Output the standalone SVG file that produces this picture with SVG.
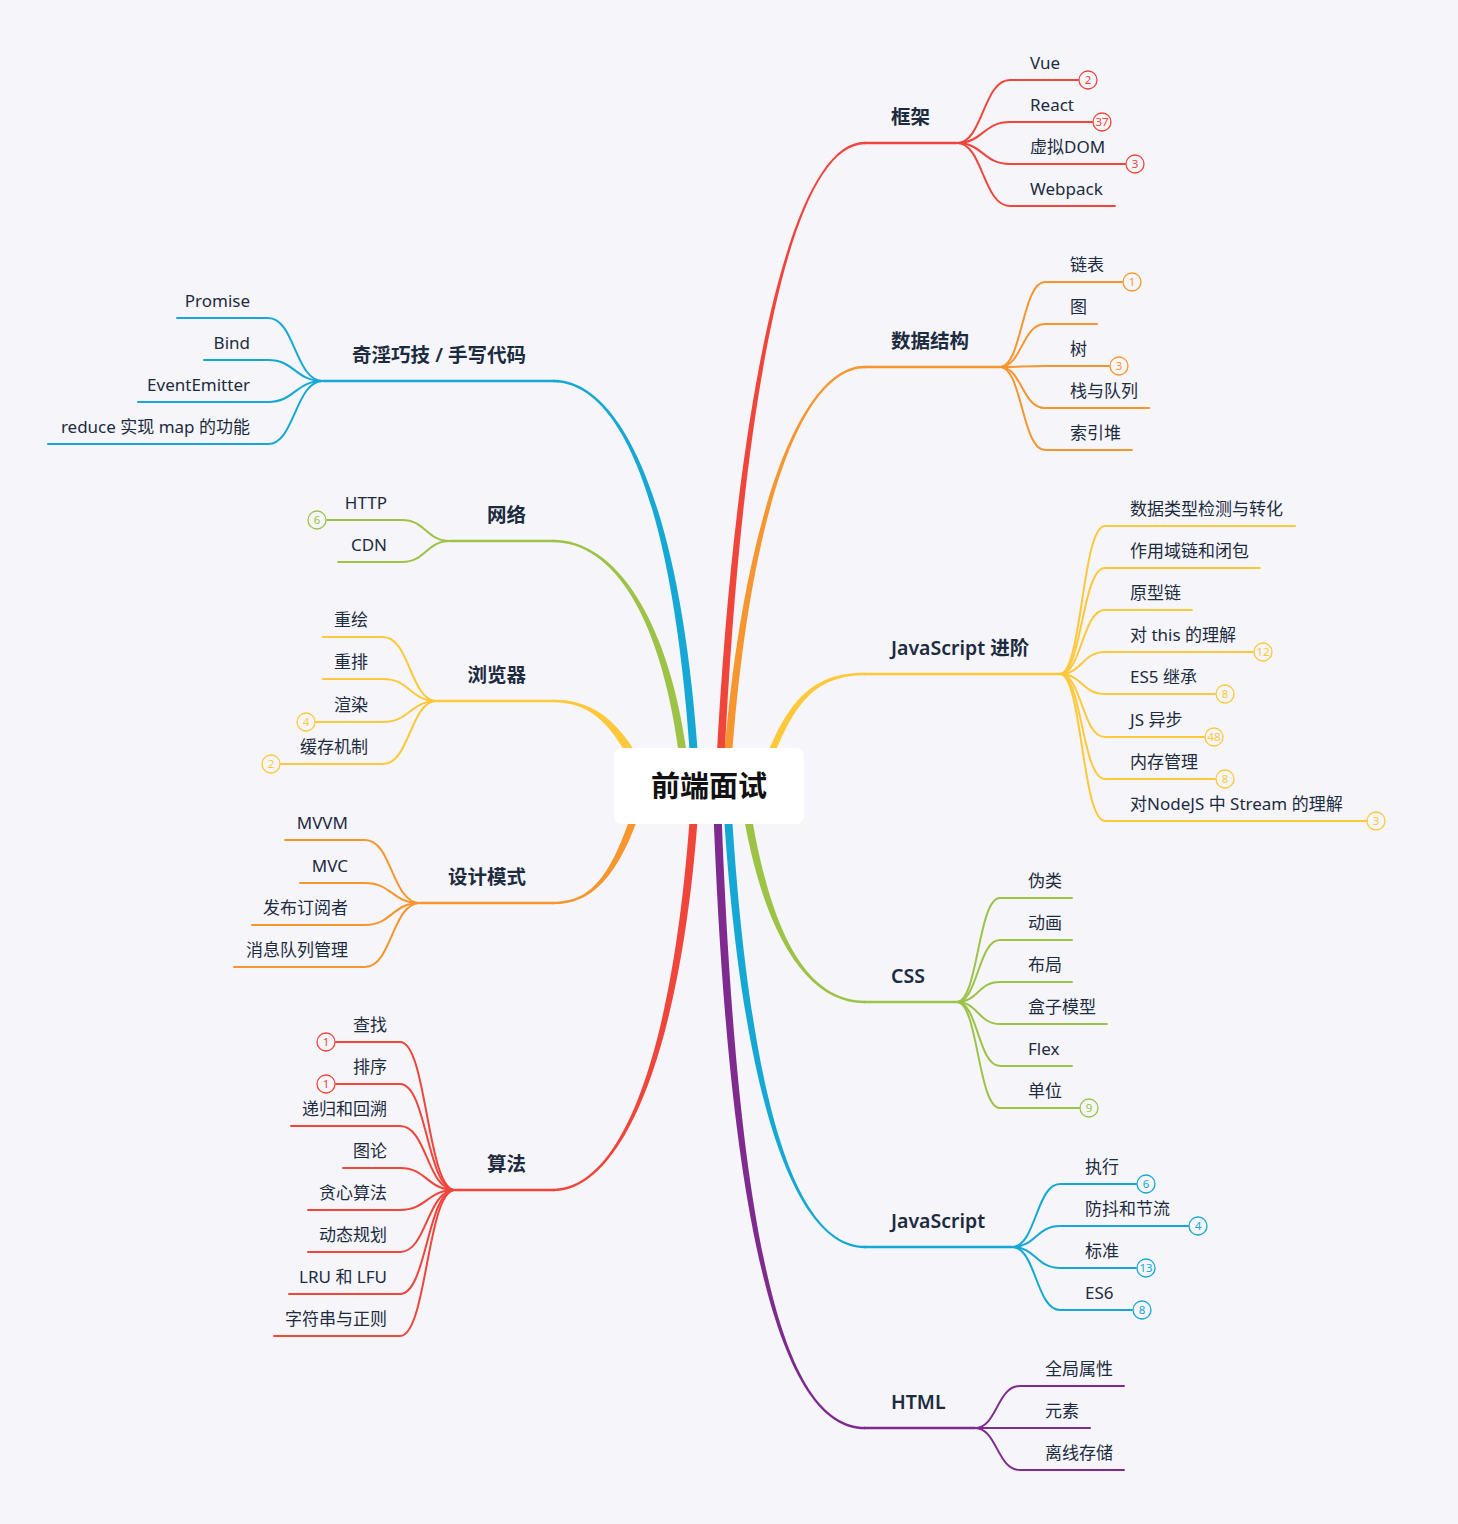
<svg xmlns="http://www.w3.org/2000/svg" width="1458" height="1524" viewBox="0 0 1458 1524">
<style>
text{font-family:"Noto Sans","Noto Sans CJK SC",sans-serif;fill:#1d2b3f}
.sub{font-size:17px}
.topic{font-size:19.5px;font-weight:600}
.center{font-size:29px;font-weight:700;fill:#111}
.br{fill:none;stroke-width:2;stroke-linecap:round}
.ul{fill:none;stroke-width:2.6}
.bd{fill:#f5f5fa;stroke-width:1.3}
.bt{font-size:11.5px;text-anchor:middle}
.end{text-anchor:end}
.red{stroke:#f0453a}.redf{fill:#f0453a}
.org{stroke:#f7952f}.orgf{fill:#f7952f}
.yel{stroke:#fdc83a}.yelf{fill:#fdc83a}
.grn{stroke:#9cc346}.grnf{fill:#9cc346}
.cyn{stroke:#15a8d4}.cynf{fill:#15a8d4}
.pur{stroke:#7e2a8f}.purf{fill:#7e2a8f}
</style>
<rect width="1458" height="1524" fill="#f5f5fa"/>
<g id="connectors">
<path class="yelf" d="M636,772 C611,722 590,702.5 553,702.2 L553,699.8 C590,699.5 619,718 644,768 Z"/>
<path class="grnf" d="M681,770 C664,620 615,542.5 553,542.2 L553,539.8 C615,539.5 672,620 689,770 Z"/>
<path class="cynf" d="M691,770 C674,500 620,382.5 553,382.2 L553,379.8 C620,379.5 682,500 699,770 Z"/>
<path class="redf" d="M716,770 C735,400 790,141.5 865,141.8 L865,144.2 C790,144.5 741,400 724,770 Z"/>
<path class="orgf" d="M723,770 C742,520 800,365.5 865,365.8 L865,368.2 C800,368.5 748,520 731,770 Z"/>
<path class="yelf" d="M761,772 C786,698 815,672.5 865,672.8 L865,675.2 C815,675.5 794,702 769,768 Z"/>
<path class="orgf" d="M636,800 C611,880 590,901.5 553,901.8 L553,904.2 C590,904.5 619,880 644,800 Z"/>
<path class="redf" d="M691,800 C674,1060 620,1188.5 553,1188.8 L553,1191.2 C620,1191.5 682,1060 699,800 Z"/>
<path class="purf" d="M713,800 C729,1250 785,1429.5 865,1429.2 L865,1426.8 C785,1426.5 737,1250 721,800 Z"/>
<path class="cynf" d="M723,800 C741,1100 795,1248.5 865,1248.2 L865,1245.8 C795,1245.5 749,1100 731,800 Z"/>
<path class="grnf" d="M741,800 C761,930 805,1003.5 865,1003.2 L865,1000.8 C805,1000.5 769,930 749,800 Z"/>
<path class="ul red" d="M864,143 H957"/>
<path class="ul org" d="M864,367 H1000"/>
<path class="ul yel" d="M864,674 H1060"/>
<path class="ul grn" d="M864,1002 H957"/>
<path class="ul cyn" d="M864,1247 H1012"/>
<path class="ul pur" d="M864,1428 H975"/>
<path class="ul cyn" d="M554,381 H323"/>
<path class="ul grn" d="M554,541 H450"/>
<path class="ul yel" d="M554,701 H437"/>
<path class="ul org" d="M554,903 H420"/>
<path class="ul red" d="M554,1190 H455"/>
<path class="br red" d="M957,143 C983,143 983,80 1010,80 H1078"/>
<path class="br red" d="M957,143 C983,143 983,122 1010,122 H1092"/>
<path class="br red" d="M957,143 C983,143 983,164 1010,164 H1125"/>
<path class="br red" d="M957,143 C983,143 983,206 1010,206 H1115"/>
<path class="br org" d="M1000,367 C1022,367 1022,282 1045,282 H1122"/>
<path class="br org" d="M1000,367 C1022,367 1022,324 1045,324 H1097"/>
<path class="br org" d="M1000,367 C1022,367 1022,366 1045,366 H1109"/>
<path class="br org" d="M1000,367 C1022,367 1022,408 1045,408 H1149"/>
<path class="br org" d="M1000,367 C1022,367 1022,450 1045,450 H1132"/>
<path class="br yel" d="M1060,674 C1082,674 1082,526 1105,526 H1295"/>
<path class="br yel" d="M1060,674 C1082,674 1082,568 1105,568 H1260"/>
<path class="br yel" d="M1060,674 C1082,674 1082,610 1105,610 H1192"/>
<path class="br yel" d="M1060,674 C1082,674 1082,652 1105,652 H1253"/>
<path class="br yel" d="M1060,674 C1082,674 1082,694 1105,694 H1215"/>
<path class="br yel" d="M1060,674 C1082,674 1082,737 1105,737 H1204"/>
<path class="br yel" d="M1060,674 C1082,674 1082,779 1105,779 H1215"/>
<path class="br yel" d="M1060,674 C1082,674 1082,821 1105,821 H1366"/>
<path class="br grn" d="M957,1002 C978,1002 978,898 1000,898 H1072"/>
<path class="br grn" d="M957,1002 C978,1002 978,940 1000,940 H1072"/>
<path class="br grn" d="M957,1002 C978,1002 978,982 1000,982 H1072"/>
<path class="br grn" d="M957,1002 C978,1002 978,1024 1000,1024 H1107"/>
<path class="br grn" d="M957,1002 C978,1002 978,1066 1000,1066 H1072"/>
<path class="br grn" d="M957,1002 C978,1002 978,1108 1000,1108 H1079"/>
<path class="br cyn" d="M1012,1247 C1036,1247 1036,1184 1060,1184 H1136"/>
<path class="br cyn" d="M1012,1247 C1036,1247 1036,1226 1060,1226 H1188"/>
<path class="br cyn" d="M1012,1247 C1036,1247 1036,1268 1060,1268 H1136"/>
<path class="br cyn" d="M1012,1247 C1036,1247 1036,1310 1060,1310 H1132"/>
<path class="br pur" d="M975,1428 C997,1428 997,1386 1020,1386 H1124"/>
<path class="br pur" d="M975,1428 C997,1428 997,1428 1020,1428 H1090"/>
<path class="br pur" d="M975,1428 C997,1428 997,1470 1020,1470 H1124"/>
<path class="br cyn" d="M323,381 C295,381 295,318 268,318 H177"/>
<path class="br cyn" d="M323,381 C295,381 295,360 268,360 H204"/>
<path class="br cyn" d="M323,381 C295,381 295,402 268,402 H138"/>
<path class="br cyn" d="M323,381 C295,381 295,444 268,444 H48"/>
<path class="br grn" d="M450,541 C426,541 426,520 402,520 H327"/>
<path class="br grn" d="M450,541 C426,541 426,562 402,562 H338"/>
<path class="br yel" d="M437,701 C410,701 410,637 383,637 H323"/>
<path class="br yel" d="M437,701 C410,701 410,679 383,679 H323"/>
<path class="br yel" d="M437,701 C410,701 410,722 383,722 H316"/>
<path class="br yel" d="M437,701 C410,701 410,764 383,764 H281"/>
<path class="br org" d="M420,903 C392,903 392,840 365,840 H285"/>
<path class="br org" d="M420,903 C392,903 392,883 365,883 H300"/>
<path class="br org" d="M420,903 C392,903 392,925 365,925 H252"/>
<path class="br org" d="M420,903 C392,903 392,967 365,967 H234"/>
<path class="br red" d="M455,1190 C427,1190 427,1042 400,1042 H336"/>
<path class="br red" d="M455,1190 C427,1190 427,1084 400,1084 H336"/>
<path class="br red" d="M455,1190 C427,1190 427,1126 400,1126 H291"/>
<path class="br red" d="M455,1190 C427,1190 427,1168 400,1168 H343"/>
<path class="br red" d="M455,1190 C427,1190 427,1210 400,1210 H308"/>
<path class="br red" d="M455,1190 C427,1190 427,1252 400,1252 H308"/>
<path class="br red" d="M455,1190 C427,1190 427,1294 400,1294 H289"/>
<path class="br red" d="M455,1190 C427,1190 427,1336 400,1336 H274"/>
</g>
<g id="center">
<rect x="614" y="748" width="190" height="76" rx="8" fill="#fff"/>
<text class="center" x="709" y="797" text-anchor="middle">前端面试</text>
</g>
<g id="t-kuangjia"><text class="topic" x="891" y="124">框架</text></g>
<g id="t-shuju"><text class="topic" x="891" y="348">数据结构</text></g>
<g id="t-jsadv"><text class="topic" x="891" y="655">JavaScript 进阶</text></g>
<g id="t-css"><text class="topic" x="891" y="983">CSS</text></g>
<g id="t-js"><text class="topic" x="891" y="1228">JavaScript</text></g>
<g id="t-html"><text class="topic" x="891" y="1409">HTML</text></g>
<g id="t-qiyin"><text class="topic end" x="526" y="362">奇淫巧技 / 手写代码</text></g>
<g id="t-wangluo"><text class="topic end" x="526" y="522">网络</text></g>
<g id="t-liulan"><text class="topic end" x="526" y="682">浏览器</text></g>
<g id="t-sheji"><text class="topic end" x="526" y="884">设计模式</text></g>
<g id="t-suanfa"><text class="topic end" x="526" y="1171">算法</text></g>
<g id="n-vue"><text class="sub" x="1030" y="69">Vue</text><circle class="bd red" cx="1088" cy="80" r="9"/><text class="bt redf" x="1088" y="84">2</text></g>
<g id="n-react"><text class="sub" x="1030" y="111">React</text><circle class="bd red" cx="1102" cy="122" r="9"/><text class="bt redf" x="1102" y="126">37</text></g>
<g id="n-vdom"><text class="sub" x="1030" y="153">虚拟DOM</text><circle class="bd red" cx="1135" cy="164" r="9"/><text class="bt redf" x="1135" y="168">3</text></g>
<g id="n-webpack"><text class="sub" x="1030" y="195">Webpack</text></g>
<g id="n-lianbiao"><text class="sub" x="1070" y="271">链表</text><circle class="bd org" cx="1132" cy="282" r="9"/><text class="bt orgf" x="1132" y="286">1</text></g>
<g id="n-tu"><text class="sub" x="1070" y="313">图</text></g>
<g id="n-shu"><text class="sub" x="1070" y="355">树</text><circle class="bd org" cx="1119" cy="366" r="9"/><text class="bt orgf" x="1119" y="370">3</text></g>
<g id="n-zhan"><text class="sub" x="1070" y="397">栈与队列</text></g>
<g id="n-suoyin"><text class="sub" x="1070" y="439">索引堆</text></g>
<g id="n-type"><text class="sub" x="1130" y="515">数据类型检测与转化</text></g>
<g id="n-scope"><text class="sub" x="1130" y="557">作用域链和闭包</text></g>
<g id="n-proto"><text class="sub" x="1130" y="599">原型链</text></g>
<g id="n-this"><text class="sub" x="1130" y="641">对 this 的理解</text><circle class="bd yel" cx="1263" cy="652" r="9"/><text class="bt yelf" x="1263" y="656">12</text></g>
<g id="n-es5"><text class="sub" x="1130" y="683">ES5 继承</text><circle class="bd yel" cx="1225" cy="694" r="9"/><text class="bt yelf" x="1225" y="698">8</text></g>
<g id="n-async"><text class="sub" x="1130" y="726">JS 异步</text><circle class="bd yel" cx="1214" cy="737" r="9"/><text class="bt yelf" x="1214" y="741">48</text></g>
<g id="n-mem"><text class="sub" x="1130" y="768">内存管理</text><circle class="bd yel" cx="1225" cy="779" r="9"/><text class="bt yelf" x="1225" y="783">8</text></g>
<g id="n-stream"><text class="sub" x="1130" y="810">对NodeJS 中 Stream 的理解</text><circle class="bd yel" cx="1376" cy="821" r="9"/><text class="bt yelf" x="1376" y="825">3</text></g>
<g id="n-weilei"><text class="sub" x="1028" y="887">伪类</text></g>
<g id="n-donghua"><text class="sub" x="1028" y="929">动画</text></g>
<g id="n-buju"><text class="sub" x="1028" y="971">布局</text></g>
<g id="n-hezi"><text class="sub" x="1028" y="1013">盒子模型</text></g>
<g id="n-flex"><text class="sub" x="1028" y="1055">Flex</text></g>
<g id="n-danwei"><text class="sub" x="1028" y="1097">单位</text><circle class="bd grn" cx="1089" cy="1108" r="9"/><text class="bt grnf" x="1089" y="1112">9</text></g>
<g id="n-zhixing"><text class="sub" x="1085" y="1173">执行</text><circle class="bd cyn" cx="1146" cy="1184" r="9"/><text class="bt cynf" x="1146" y="1188">6</text></g>
<g id="n-fangdou"><text class="sub" x="1085" y="1215">防抖和节流</text><circle class="bd cyn" cx="1198" cy="1226" r="9"/><text class="bt cynf" x="1198" y="1230">4</text></g>
<g id="n-biaozhun"><text class="sub" x="1085" y="1257">标准</text><circle class="bd cyn" cx="1146" cy="1268" r="9"/><text class="bt cynf" x="1146" y="1272">13</text></g>
<g id="n-es6"><text class="sub" x="1085" y="1299">ES6</text><circle class="bd cyn" cx="1142" cy="1310" r="9"/><text class="bt cynf" x="1142" y="1314">8</text></g>
<g id="n-quanju"><text class="sub" x="1045" y="1375">全局属性</text></g>
<g id="n-yuansu"><text class="sub" x="1045" y="1417">元素</text></g>
<g id="n-lixian"><text class="sub" x="1045" y="1459">离线存储</text></g>
<g id="n-promise"><text class="sub end" x="250" y="307">Promise</text></g>
<g id="n-bind"><text class="sub end" x="250" y="349">Bind</text></g>
<g id="n-event"><text class="sub end" x="250" y="391">EventEmitter</text></g>
<g id="n-reduce"><text class="sub end" x="250" y="433">reduce 实现 map 的功能</text></g>
<g id="n-http"><text class="sub end" x="387" y="509">HTTP</text><circle class="bd grn" cx="317" cy="520" r="9"/><text class="bt grnf" x="317" y="524">6</text></g>
<g id="n-cdn"><text class="sub end" x="387" y="551">CDN</text></g>
<g id="n-chonghui"><text class="sub end" x="368" y="626">重绘</text></g>
<g id="n-chongpai"><text class="sub end" x="368" y="668">重排</text></g>
<g id="n-xuanran"><text class="sub end" x="368" y="711">渲染</text><circle class="bd yel" cx="306" cy="722" r="9"/><text class="bt yelf" x="306" y="726">4</text></g>
<g id="n-huancun"><text class="sub end" x="368" y="753">缓存机制</text><circle class="bd yel" cx="271" cy="764" r="9"/><text class="bt yelf" x="271" y="768">2</text></g>
<g id="n-mvvm"><text class="sub end" x="348" y="829">MVVM</text></g>
<g id="n-mvc"><text class="sub end" x="348" y="872">MVC</text></g>
<g id="n-fabu"><text class="sub end" x="348" y="914">发布订阅者</text></g>
<g id="n-xiaoxi"><text class="sub end" x="348" y="956">消息队列管理</text></g>
<g id="n-chazhao"><text class="sub end" x="387" y="1031">查找</text><circle class="bd red" cx="326" cy="1042" r="9"/><text class="bt redf" x="326" y="1046">1</text></g>
<g id="n-paixu"><text class="sub end" x="387" y="1073">排序</text><circle class="bd red" cx="326" cy="1084" r="9"/><text class="bt redf" x="326" y="1088">1</text></g>
<g id="n-digui"><text class="sub end" x="387" y="1115">递归和回溯</text></g>
<g id="n-tulun"><text class="sub end" x="387" y="1157">图论</text></g>
<g id="n-tanxin"><text class="sub end" x="387" y="1199">贪心算法</text></g>
<g id="n-dongtai"><text class="sub end" x="387" y="1241">动态规划</text></g>
<g id="n-lru"><text class="sub end" x="387" y="1283">LRU 和 LFU</text></g>
<g id="n-zifu"><text class="sub end" x="387" y="1325">字符串与正则</text></g>
</svg>
